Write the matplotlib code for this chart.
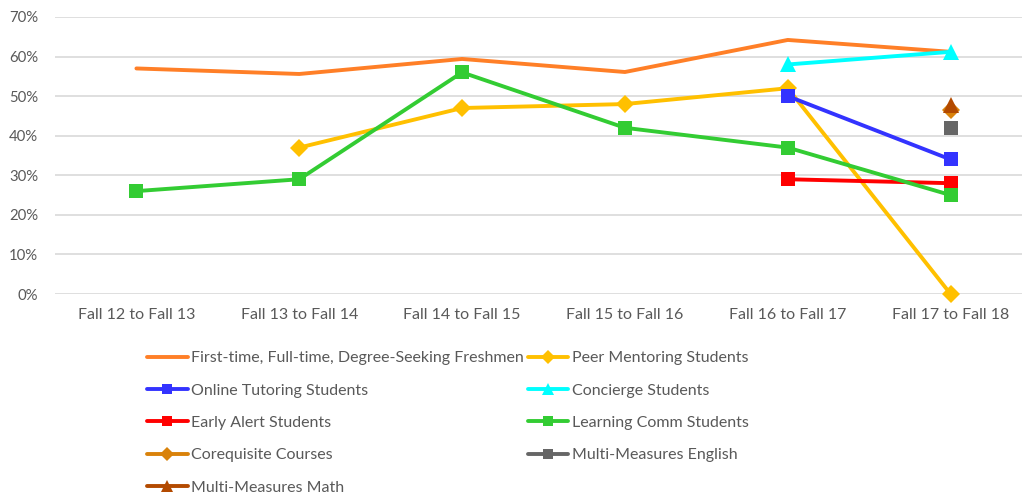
import numpy as np
import matplotlib
matplotlib.use("Agg")
import matplotlib.pyplot as plt

plt.rcParams['font.family'] = ['Lato', 'DejaVu Sans']

categories = ["Fall 12 to Fall 13", "Fall 13 to Fall 14", "Fall 14 to Fall 15",
              "Fall 15 to Fall 16", "Fall 16 to Fall 17", "Fall 17 to Fall 18"]
nan = np.nan
freshmen = [0.57, 0.556, 0.594, 0.561, 0.642, 0.612]
peer_mentoring = [nan, 0.37, 0.47, 0.48, 0.52, 0.0]
online_tutoring = [nan, nan, nan, nan, 0.50, 0.34]
concierge = [nan, nan, nan, nan, 0.58, 0.612]
early_alert = [nan, nan, nan, nan, 0.29, 0.28]
learning_comm = [0.26, 0.29, 0.56, 0.42, 0.37, 0.25]
corequisite = [nan, nan, nan, nan, nan, 0.465]
mm_english = [nan, nan, nan, nan, nan, 0.42]
mm_math = [nan, nan, nan, nan, nan, 0.478]
yticks = [0, 0.1, 0.2, 0.3, 0.4, 0.5, 0.6, 0.7]

series = [
    ("First-time, Full-time, Degree-Seeking Freshmen", freshmen, "#FF7F27", None, 0),
    ("Peer Mentoring Students", peer_mentoring, "#FFC000", "D", 9),
    ("Online Tutoring Students", online_tutoring, "#3333FF", "s", 10.5),
    ("Concierge Students", concierge, "#00FFFF", "^", 11),
    ("Early Alert Students", early_alert, "#FF0000", "s", 10.5),
    ("Learning Comm Students", learning_comm, "#33CC33", "s", 10.5),
    ("Corequisite Courses", corequisite, "#D9820A", "D", 9),
    ("Multi-Measures English", mm_english, "#666666", "s", 10.5),
    ("Multi-Measures Math", mm_math, "#B34A00", "^", 11),
]

W, H = 1022, 499
fig = plt.figure(figsize=(W / 100, H / 100), dpi=100)
ax = fig.add_axes([55 / W, (H - 294) / H, 977 / W, 277 / H])

x = np.arange(len(categories))
handles = {}
for name, vals, color, marker, ms in series:
    v = np.array(vals, dtype=float)
    mask = ~np.isnan(v)
    (h,) = ax.plot(x[mask], v[mask], color=color, lw=2.8, marker=marker,
                   markersize=ms, markeredgewidth=0, solid_capstyle='round',
                   label=name, zorder=3, clip_on=False)
    handles[name] = h

ax.set_xlim(-0.5, len(categories) - 0.5)
ax.set_ylim(0, 0.7)
ax.set_yticks(yticks)
ax.set_yticklabels([f"{int(round(t * 100))}%" for t in yticks])
ax.set_xticks(x)
ax.set_xticklabels(categories)
ax.yaxis.grid(True, color="#D9D9D9", lw=1.2)
ax.set_axisbelow(True)
for s in ax.spines.values():
    s.set_visible(False)
ax.tick_params(axis='both', length=0, colors="#595959")
ax.tick_params(axis='y', pad=12, labelsize=10.7)
ax.tick_params(axis='x', pad=10, labelsize=11.5)

names = [s[0] for s in series]
order = [names[i] for i in [0, 2, 4, 6, 8, 1, 3, 5, 7]]
leg = fig.legend([handles[n] for n in order], order, ncol=2,
                 loc='upper left', bbox_to_anchor=(147 / W, (H - 351) / H),
                 frameon=False, fontsize=11.5, handlelength=2.55,
                 handletextpad=0.2, columnspacing=0.25, labelspacing=1.14,
                 markerscale=0.75, borderpad=0, borderaxespad=0)
for t in leg.get_texts():
    t.set_color("#595959")

fig.savefig("out.png", dpi=100)
